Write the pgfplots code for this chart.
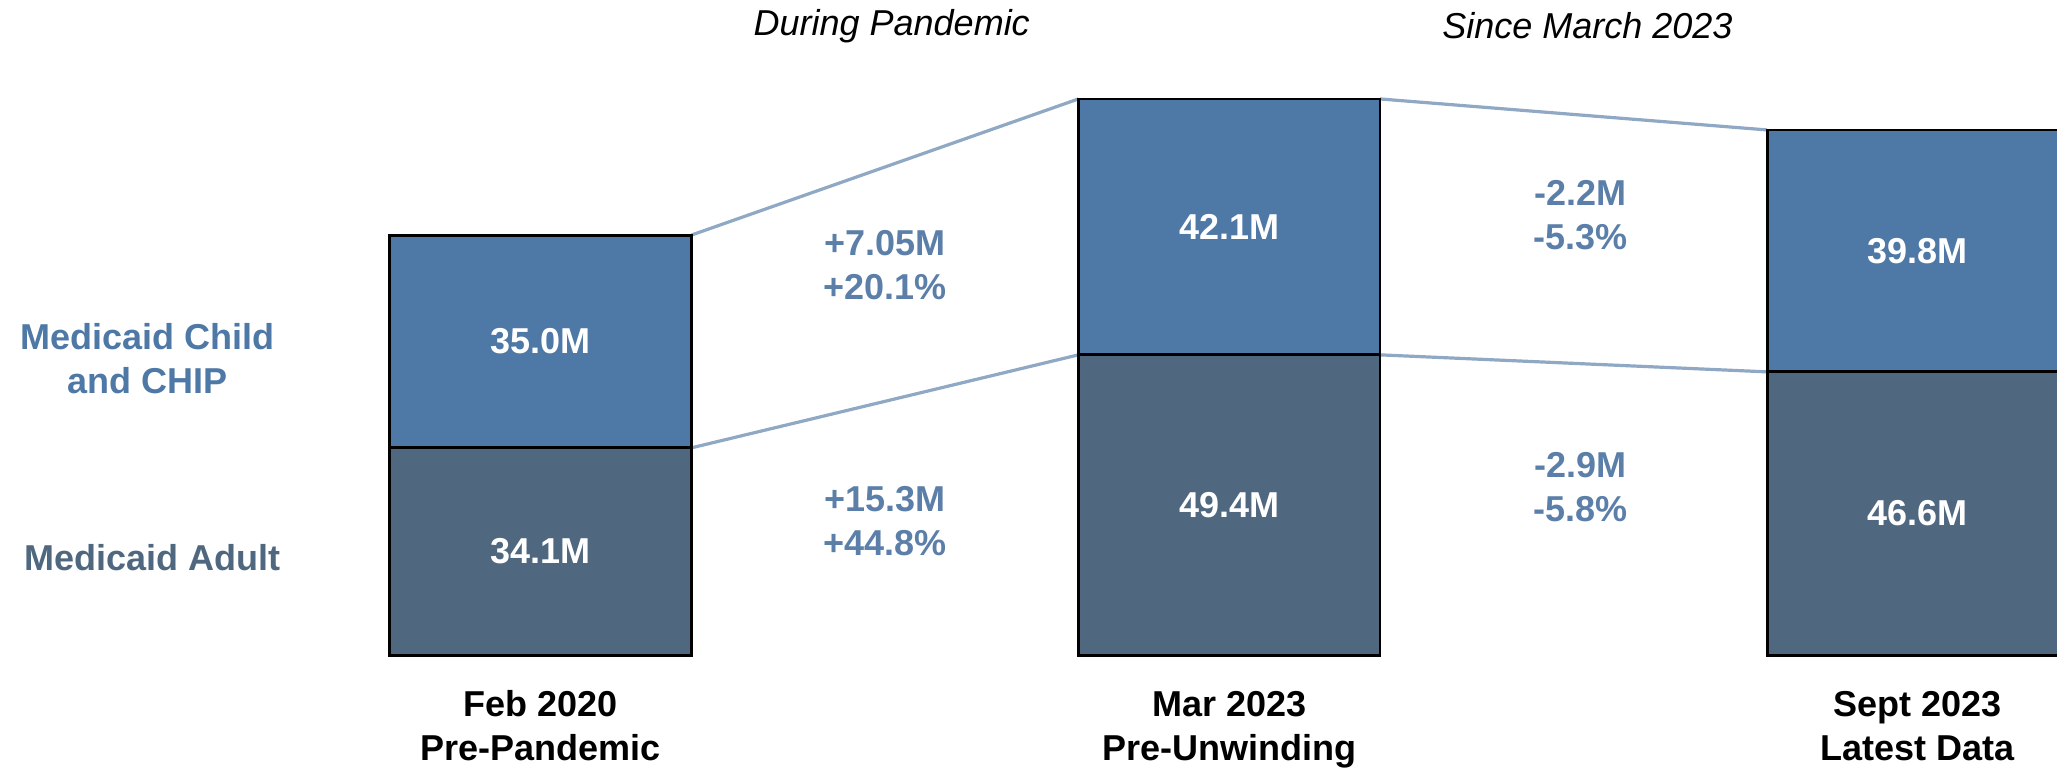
\documentclass[border=0pt]{standalone}
\usepackage{pgfplots}
\usepackage{pgfplotstable}
\pgfplotsset{compat=1.18}
\usepackage{fontspec}
\setmainfont{Liberation Sans}

\definecolor{childc}{HTML}{4E78A5}
\definecolor{adultc}{HTML}{4F6880}
\definecolor{linkc}{HTML}{8FA8C4}
\definecolor{chgc}{HTML}{5B7FA8}

% M people, per period
\pgfplotstableread{
x adult child
0 34.1 35.0
1 49.4 42.1
2 46.6 39.8
}\enroll

\newcommand{\lbl}{\fontsize{18}{22}\selectfont}

\begin{document}
\begin{tikzpicture}
\begin{axis}[
  scale only axis,
  width=1028.5pt, height=384pt,
  xmin=-0.7848, xmax=2.2019,
  ymin=-18.57, ymax=107.78,
  hide axis,
  clip mode=individual,
]
\path (rel axis cs:0,0) rectangle (rel axis cs:1,1);

% connectors
\addplot[linkc, line width=1.6pt, no marks] coordinates {(0.219,69.1) (0.781,91.5)};
\addplot[linkc, line width=1.6pt, no marks] coordinates {(0.219,34.1) (0.781,49.4)};
\addplot[linkc, line width=1.6pt, no marks] coordinates {(1.219,91.5) (1.781,86.4)};
\addplot[linkc, line width=1.6pt, no marks] coordinates {(1.219,49.4) (1.781,46.6)};

% bars: child on top of adult
\addplot[ybar, bar shift=0pt, bar width=0.438, fill=childc, draw=black, line width=1.4pt]
  table[x=x, y expr=\thisrow{adult}+\thisrow{child}] {\enroll};
\addplot[ybar, bar shift=0pt, bar width=0.438, fill=adultc, draw=black, line width=1.4pt]
  table[x=x, y=adult] {\enroll};

% values in bars
\begin{scope}[every node/.style={font=\lbl\bfseries, text=white}]
\node at (axis cs:0,51.6) {35.0M};
\node at (axis cs:0,17.05) {34.1M};
\node at (axis cs:1,70.45) {42.1M};
\node at (axis cs:1,24.7) {49.4M};
\node at (axis cs:2,66.5) {39.8M};
\node at (axis cs:2,23.3) {46.6M};
\end{scope}

% changes
\begin{scope}[every node/.style={font=\lbl\bfseries, text=chgc, align=center}]
\node at (axis cs:0.5,64.1) {+7.05M\\+20.1\%};
\node at (axis cs:0.5,22.0) {+15.3M\\+44.8\%};
\node at (axis cs:1.51,72.4) {-2.2M\\-5.3\%};
\node at (axis cs:1.51,27.6) {-2.9M\\-5.8\%};
\end{scope}

% side labels
\node[font=\lbl\bfseries, text=childc, align=center] at (axis cs:-0.571,48.8) {Medicaid Child\\and CHIP};
\node[font=\lbl\bfseries, text=adultc] at (axis cs:-0.564,16.0) {Medicaid Adult};

% top labels
\node[font=\lbl\itshape] at (axis cs:0.51,103.5) {During Pandemic};
\node[font=\lbl\itshape] at (axis cs:1.52,103.5) {Since March 2023};

% period labels (anchored on the last line)
\begin{scope}[every node/.style={font=\lbl\bfseries, align=center, anchor=base,
  inner sep=0pt, text depth=0pt}]
\node at (axis cs:0,-17.3) {Feb 2020\\Pre-Pandemic};
\node at (axis cs:1,-17.3) {Mar 2023\\Pre-Unwinding};
\node at (axis cs:2,-17.3) {Sept 2023\\Latest Data};
\end{scope}
\end{axis}
\end{tikzpicture}
\end{document}
